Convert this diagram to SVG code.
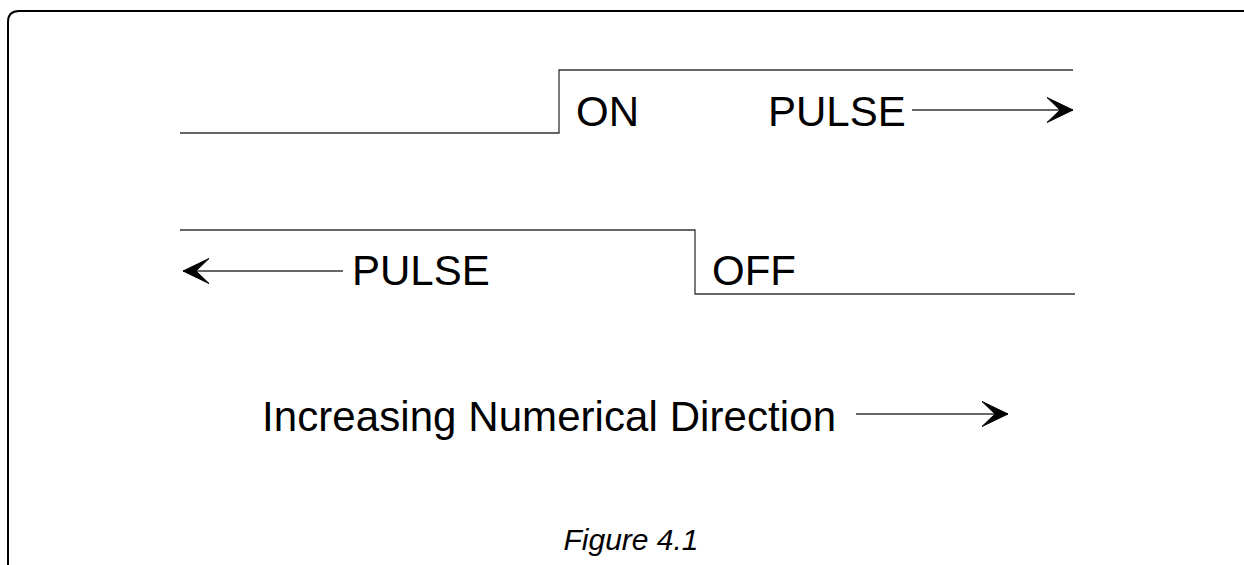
<svg xmlns="http://www.w3.org/2000/svg" width="1244" height="565" viewBox="0 0 1244 565">
  <style>
    .lbl { font-family: "Liberation Sans", Arial, sans-serif; font-size: 42px; fill: #000; }
    .cap { font-family: "Liberation Sans", Arial, sans-serif; font-size: 30px; font-style: italic; fill: #000; }
    .wave { fill: none; stroke: #333; stroke-width: 1.3; }
    .arr { fill: none; stroke: #333; stroke-width: 1.6; marker-end: url(#head); }
  </style>
  <defs>
    <marker id="head" markerUnits="userSpaceOnUse" markerWidth="30" markerHeight="30" refX="26" refY="13" orient="auto" viewBox="0 0 30 26">
      <path d="M26,13 L0,0.5 L13,13 L0,25.5 Z" fill="#000" stroke="#000" stroke-width="1" stroke-linejoin="miter"/>
    </marker>
  </defs>
  <rect width="1244" height="565" fill="#fff"/>
  <path d="M8,565 V22 Q8,11 19,11 H1244" fill="none" stroke="#000" stroke-width="2"/>
  <g id="on-pulse">
    <path class="wave" d="M180,133 H559 V70 H1073"/>
    <text class="lbl" x="576" y="126">ON</text>
    <text class="lbl" x="768" y="126">PULSE</text>
  </g>
  <g id="off-pulse">
    <path class="wave" d="M180,230 H695 V294 H1075"/>
    <text class="lbl" x="352" y="285">PULSE</text>
    <text class="lbl" x="712" y="285">OFF</text>
  </g>
  <g id="direction">
    <text class="lbl" x="262" y="431" textLength="574" lengthAdjust="spacing">Increasing Numerical Direction</text>
  </g>
  <g id="caption">
    <text class="cap" x="631" y="550" text-anchor="middle">Figure 4.1</text>
  </g>
  <g id="connectors">
    <line class="arr" x1="912" y1="110" x2="1073" y2="110"/>
    <line class="arr" x1="343" y1="271" x2="183" y2="271"/>
    <line class="arr" x1="856" y1="414" x2="1008" y2="414"/>
  </g>
</svg>
